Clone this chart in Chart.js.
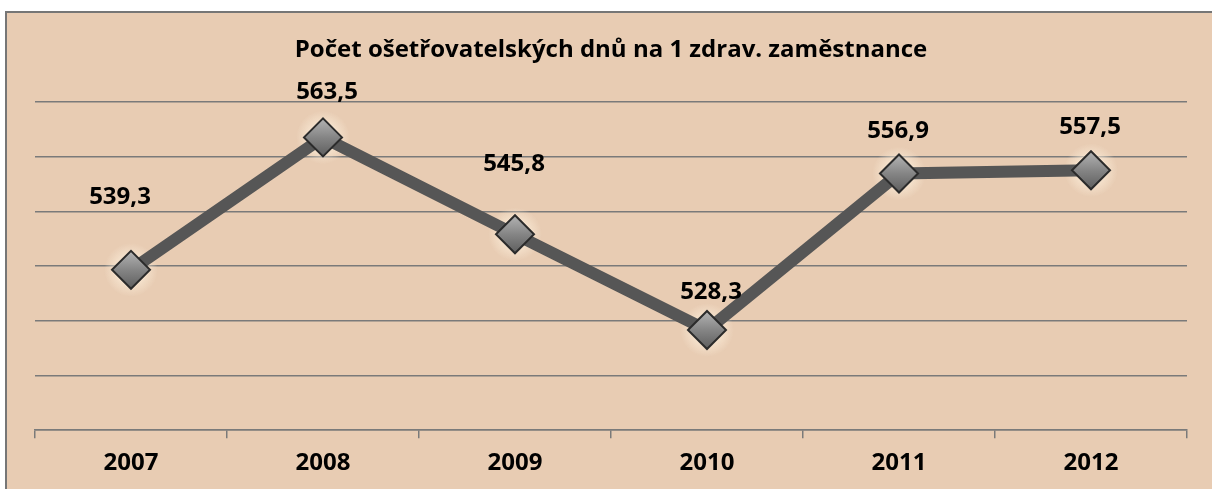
<!DOCTYPE html>
<html>
<head>
<meta charset="utf-8">
<script src="https://cdn.jsdelivr.net/npm/chart.js@4/dist/chart.umd.min.js"></script>
<style>
  html, body { margin: 0; padding: 0; background: #fff; }
  #frame {
    position: absolute; left: 5px; top: 11px; width: 1300px; height: 600px;
    background: #E8CCB3; border: 2px solid #767676;
  }
  #wrap { position: absolute; left: 0; top: 0; width: 1212px; height: 489px; }
</style>
</head>
<body>
<div id="frame"></div>
<div id="wrap"><canvas id="myLineChart" width="1212" height="489"></canvas></div>
<script>
// -- data
var years = ['2007', '2008', '2009', '2010', '2011', '2012'];
var nursingDays = [539.3, 563.5, 545.8, 528.3, 556.9, 557.5];
var yMin = 510, yMax = 570, yStep = 10;

// label lift above each point (labels were placed by hand in the original)
var labelLift = [73, 45, 70, 38, 42, 43];
var labelShift = [-11, 4, -1, 4, -1, -1];

var font = "'Open Sans', Lato, sans-serif";

var valueLabels = {
  id: 'valueLabels',
  afterDatasetsDraw: function (chart) {
    var ctx = chart.ctx;
    var meta = chart.getDatasetMeta(0);
    ctx.save();
    ctx.font = "bold 24px " + font;
    ctx.fillStyle = '#000';
    ctx.textAlign = 'center';
    ctx.textBaseline = 'middle';
    meta.data.forEach(function (pt, i) {
      var txt = nursingDays[i].toFixed(1).replace('.', ',');
      ctx.fillText(txt, pt.x + labelShift[i], pt.y - labelLift[i]);
    });
    ctx.restore();
  }
};

// soft light halo behind the diamonds, drawn before the dataset
var markerHalo = {
  id: 'markerHalo',
  beforeDatasetsDraw: function (chart) {
    var ctx = chart.ctx;
    chart.getDatasetMeta(0).data.forEach(function (pt) {
      var g = ctx.createRadialGradient(pt.x, pt.y, 10, pt.x, pt.y, 27);
      g.addColorStop(0, 'rgba(250,235,215,0.9)');
      g.addColorStop(1, 'rgba(250,235,215,0)');
      ctx.save();
      ctx.fillStyle = g;
      ctx.beginPath();
      ctx.arc(pt.x, pt.y, 27, 0, Math.PI * 2);
      ctx.fill();
      ctx.restore();
    });
  }
};

function markerFill(c) {
  var el = c.chart.getDatasetMeta(0).data[c.dataIndex];
  if (!el || el.y == null || isNaN(el.y)) return '#8a8a8a';
  var g = c.chart.ctx.createLinearGradient(0, el.y - 19, 0, el.y + 19);
  g.addColorStop(0, '#b4b4b4');
  g.addColorStop(0.5, '#858585');
  g.addColorStop(1, '#5e5e5e');
  return g;
}

var ctx1 = document.getElementById('myLineChart');

var myLineChart = new Chart(ctx1, {
  type: 'line',
  data: {
    labels: years,
    datasets: [{
      data: nursingDays,
      borderColor: '#565656',
      borderWidth: 12,
      pointStyle: 'rectRot',
      pointRadius: 19,
      pointHoverRadius: 19,
      pointBackgroundColor: markerFill,
      pointBorderColor: '#2b2b2b',
      pointBorderWidth: 2,
      tension: 0
    }]
  },
  options: {
    responsive: false,
    animation: false,
    events: [],
    layout: { padding: { left: 35, right: 25, top: 0, bottom: 0 } },
    plugins: {
      legend: { display: false },
      tooltip: { enabled: false },
      title: {
        display: true,
        text: 'Počet ošetřovatelských dnů na 1 zdrav. zaměstnance',
        color: '#000',
        font: { family: font, size: 24, weight: 'bold', lineHeight: 1.2 },
        padding: { top: 36, bottom: 37 }
      }
    },
    scales: {
      x: {
        offset: true,
        grid: {
          offset: true,
          drawOnChartArea: false,
          drawTicks: true,
          tickLength: 8,
          color: '#7a7a7a',
          lineWidth: 1.5
        },
        border: { display: true, color: '#7a7a7a', width: 1.5 },
        ticks: {
          color: '#000',
          padding: 11,
          font: { family: font, size: 24, weight: 'bold', lineHeight: 1.2 }
        }
      },
      y: {
        min: yMin,
        max: yMax,
        ticks: { display: false, stepSize: yStep },
        border: { display: false },
        grid: { drawTicks: false, color: '#7a7a7a', lineWidth: 1.5 }
      }
    }
  },
  plugins: [markerHalo, valueLabels]
});
// second pass so the marker gradients know where the points are
myLineChart.update('none');
</script>
</body>
</html>
